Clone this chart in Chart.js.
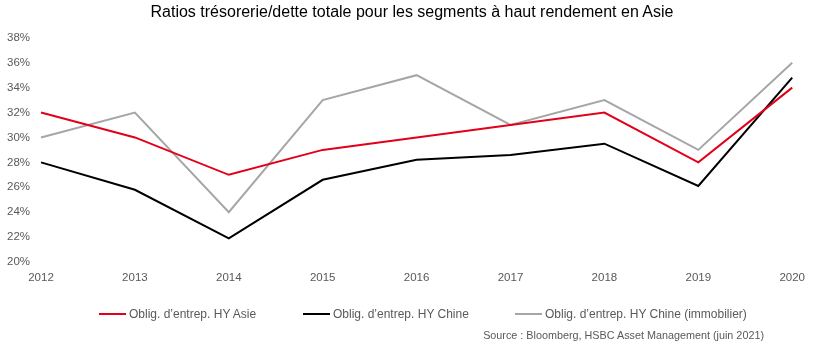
<!DOCTYPE html>
<html>
<head>
<meta charset="utf-8">
<script src="https://cdn.jsdelivr.net/npm/chart.js@4"></script>
<style>
  html, body { margin:0; padding:0; background:#fff; }
  #wrap { position:relative; width:814px; height:346px; font-family:"Liberation Sans", Arial, sans-serif; }
  #c { position:absolute; left:0; top:0; }
  .title { position:absolute; left:0; width:824px; top:3px; text-align:center; font-size:16px; color:#000; }
  .leg { position:absolute; top:305px; font-size:12px; color:#595959; line-height:18px; white-space:nowrap; }
  .leg span.ln { display:inline-block; width:27px; height:2px; vertical-align:middle; margin-right:3px; position:relative; top:-1px; }
  .src { position:absolute; top:329px; left:0; width:764px; text-align:right; font-size:10.8px; color:#595959; white-space:nowrap; }
</style>
</head>
<body>
<div id="wrap">
  <canvas id="c" width="814" height="346"></canvas>
  <div class="title">Ratios trésorerie/dette totale pour les segments à haut rendement en Asie</div>
  <div class="leg" style="left:99px"><span class="ln" style="background:#E2001A"></span>Oblig. d’entrep. HY Asie</div>
  <div class="leg" style="left:303px"><span class="ln" style="background:#000"></span>Oblig. d’entrep. HY Chine</div>
  <div class="leg" style="left:515px"><span class="ln" style="background:#A6A6A6"></span>Oblig. d’entrep. HY Chine (immobilier)</div>
  <div class="src">Source : Bloomberg, HSBC Asset Management (juin 2021)</div>
</div>
<script>
const categories = ['2012','2013','2014','2015','2016','2017','2018','2019','2020'];
const seriesNames = ['Oblig. d’entrep. HY Asie','Oblig. d’entrep. HY Chine','Oblig. d’entrep. HY Chine (immobilier)'];
const hyAsie = [32, 30, 27, 29, 30, 31, 32, 28, 34];
const hyChine = [28.0, 25.8, 21.9, 26.6, 28.2, 28.6, 29.5, 26.1, 34.8];
const hyChineImmo = [30, 32, 24, 33, 35, 31, 33, 29, 36];
const yMin = 20, yMax = 38, yStep = 2;

const font = { family: '"Liberation Sans", Arial, sans-serif', size: 11.5 };
new Chart(document.getElementById('c'), {
  type: 'line',
  data: {
    labels: categories,
    datasets: [
      { label: seriesNames[0], data: hyAsie, borderColor:'#E2001A', borderWidth:2, pointRadius:0, tension:0, fill:false },
      { label: seriesNames[1], data: hyChine, borderColor:'#000000', borderWidth:2, pointRadius:0, tension:0, fill:false },
      { label: seriesNames[2], data: hyChineImmo, borderColor:'#A6A6A6', borderWidth:2, pointRadius:0, tension:0, fill:false }
    ]
  },
  options: {
    responsive:false, animation:false,
    layout: { padding: { left:0, right:21, top:37.8, bottom:0 } },
    plugins: { legend:{display:false}, title:{display:false}, tooltip:{enabled:false} },
    scales: {
      x: {
        offset:false,
        grid:{display:false, drawTicks:false}, border:{display:false},
        ticks:{ color:'#595959', font, padding:9, maxRotation:0, autoSkip:false },
        afterFit(s){ s.height = 346 - 262; }
      },
      y: {
        min:yMin, max:yMax,
        grid:{display:false, drawTicks:false}, border:{display:false},
        ticks:{ stepSize:yStep, color:'#595959', font, padding:11, callback:v=>v+'%' },
        afterFit(s){ s.width = 41; }
      }
    }
  }
});
</script>
</body>
</html>
